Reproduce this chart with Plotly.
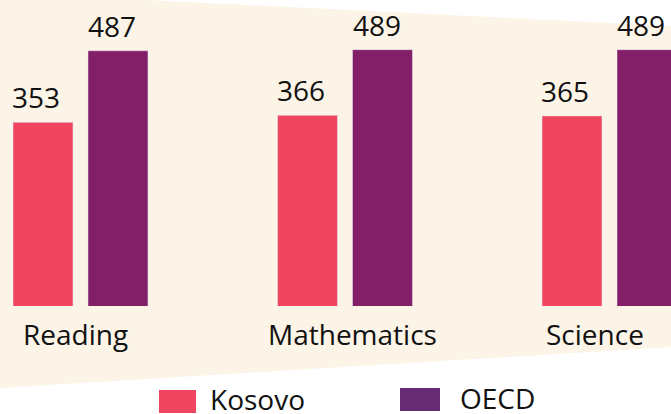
import plotly.graph_objects as go

categories = ["Reading", "Mathematics", "Science"]
kosovo = [353, 366, 365]
oecd = [487, 489, 489]
series_names = ["Kosovo", "OECD"]

KOSOVO_COLOR = "#ef455f"
OECD_COLOR = "#831f68"
OECD_LEGEND_COLOR = "#652c73"
BG_COLOR = "#fcf4e7"
TEXT_COLOR = "#111111"
FONT = "Open Sans, Noto Sans, sans-serif"

fig = go.Figure()
for name, vals, col in [(series_names[0], kosovo, KOSOVO_COLOR), (series_names[1], oecd, OECD_COLOR)]:
    fig.add_trace(go.Bar(
        x=categories, y=vals, name=name, marker_color=col,
        showlegend=False, hoverinfo="skip",
    ))

H = 306.0  # plot area height in px
def py(p):
    return (H - p) / H

shapes = [
    dict(type="path", xref="paper", yref="paper", layer="below",
         path=f"M 0 {py(-7.3)} L 1 {py(26)} L 1 {py(347)} L 0 {py(388)} Z",
         fillcolor=BG_COLOR, line=dict(width=0)),
    dict(type="rect", xref="paper", yref="paper",
         x0=159/671, x1=196/671, y0=py(390), y1=py(413),
         fillcolor=KOSOVO_COLOR, line=dict(width=0)),
    dict(type="rect", xref="paper", yref="paper",
         x0=400/671, x1=440/671, y0=py(388), y1=py(411),
         fillcolor=OECD_LEGEND_COLOR, line=dict(width=0)),
]

annotations = []
# value labels, left-aligned on each bar
for vals, shift in [(kosovo, -67.5 - 3), (oecd, 7.5 - 2)]:
    for c, v in zip(categories, vals):
        annotations.append(dict(x=c, y=v, xref="x", yref="y", text=str(v),
                                showarrow=False, xanchor="left", yanchor="bottom",
                                xshift=shift, yshift=4,
                                font=dict(size=28, color=TEXT_COLOR, family=FONT)))

label_shift = [-4.5, 7.5, -14.5]
for c, s in zip(categories, label_shift):
    annotations.append(dict(x=c, xref="x", y=py(334), yref="paper", text=c,
                            showarrow=False, xshift=s, yanchor="middle",
                            font=dict(size=28, color=TEXT_COLOR, family=FONT)))
annotations.append(dict(x=208/671, y=py(399), xref="paper", yref="paper", text=series_names[0],
                        showarrow=False, xanchor="left", yanchor="middle",
                        font=dict(size=28, color=TEXT_COLOR, family=FONT)))
annotations.append(dict(x=458/671, y=py(398), xref="paper", yref="paper", text=series_names[1],
                        showarrow=False, xanchor="left", yanchor="middle",
                        font=dict(size=28, color=TEXT_COLOR, family=FONT)))

fig.update_layout(
    width=671, height=414, autosize=False,
    margin=dict(l=0, r=0, t=0, b=108, pad=0),
    paper_bgcolor="white", plot_bgcolor="rgba(0,0,0,0)",
    barmode="group", bargap=0.433, bargroupgap=0.2,
    xaxis=dict(range=[-0.3043, 2.2325], visible=False, fixedrange=True),
    yaxis=dict(range=[9, 582], visible=False, fixedrange=True),
    shapes=shapes, annotations=annotations,
    font=dict(family=FONT, color=TEXT_COLOR),
    showlegend=False,
)

fig.write_html("out.html", config={"displayModeBar": False, "staticPlot": True},
               post_script="document.body.style.margin='0';document.body.style.overflow='hidden';")
